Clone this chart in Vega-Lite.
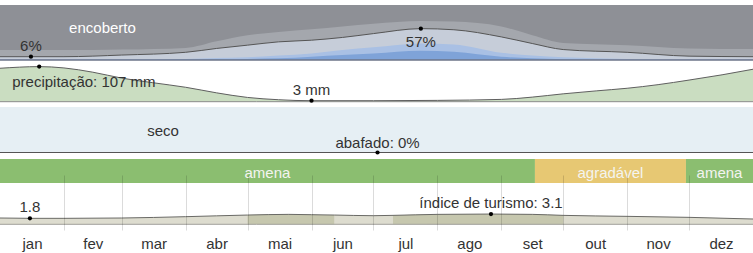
{
  "$schema": "https://vega.github.io/schema/vega-lite/v6.json",
  "width": 753,
  "height": 235,
  "autosize": {"type": "none"},
  "padding": {"left": 0, "right": 0, "top": 0, "bottom": 18},
  "background": "white",
  "config": {
    "view": {"stroke": null},
    "text": {"font": "Liberation Sans", "fontSize": 15, "color": "#333"}
  },
  "datasets": {
    "nuvens": [
      {"dia": 0, "limpo": 0.5, "quase": 1, "parcial": 6, "maioria": 18},
      {"dia": 15, "limpo": 0.5, "quase": 1, "parcial": 6, "maioria": 18},
      {"dia": 31, "limpo": 0.5, "quase": 1, "parcial": 6, "maioria": 18},
      {"dia": 59, "limpo": 0.5, "quase": 1.2, "parcial": 9, "maioria": 19},
      {"dia": 90, "limpo": 1, "quase": 2, "parcial": 14, "maioria": 22},
      {"dia": 105, "limpo": 1.5, "quase": 3.5, "parcial": 21, "maioria": 34},
      {"dia": 120, "limpo": 2, "quase": 5, "parcial": 27, "maioria": 45},
      {"dia": 135, "limpo": 3, "quase": 8, "parcial": 33, "maioria": 51},
      {"dia": 151, "limpo": 6, "quase": 12, "parcial": 36, "maioria": 56},
      {"dia": 166, "limpo": 9, "quase": 18, "parcial": 41, "maioria": 61},
      {"dia": 181, "limpo": 12, "quase": 23, "parcial": 48, "maioria": 66},
      {"dia": 204, "limpo": 17, "quase": 30, "parcial": 57, "maioria": 71},
      {"dia": 220, "limpo": 15, "quase": 28, "parcial": 55, "maioria": 70},
      {"dia": 243, "limpo": 6, "quase": 13, "parcial": 42, "maioria": 61},
      {"dia": 258, "limpo": 3, "quase": 8, "parcial": 30, "maioria": 45},
      {"dia": 273, "limpo": 1.5, "quase": 5, "parcial": 19, "maioria": 31},
      {"dia": 304, "limpo": 0.5, "quase": 2, "parcial": 14, "maioria": 27},
      {"dia": 334, "limpo": 0.5, "quase": 1, "parcial": 7, "maioria": 21},
      {"dia": 365, "limpo": 0.5, "quase": 1, "parcial": 6, "maioria": 20}
    ],
    "chuva": [
      {"dia": 0, "mm": 102}, {"dia": 19, "mm": 107}, {"dia": 31, "mm": 103},
      {"dia": 45, "mm": 90}, {"dia": 59, "mm": 72}, {"dia": 74, "mm": 58},
      {"dia": 90, "mm": 44}, {"dia": 105, "mm": 27}, {"dia": 120, "mm": 13},
      {"dia": 135, "mm": 6}, {"dia": 151, "mm": 3}, {"dia": 181, "mm": 3},
      {"dia": 212, "mm": 4}, {"dia": 243, "mm": 7}, {"dia": 258, "mm": 14},
      {"dia": 273, "mm": 24}, {"dia": 289, "mm": 33}, {"dia": 304, "mm": 41},
      {"dia": 319, "mm": 52}, {"dia": 334, "mm": 66}, {"dia": 350, "mm": 82},
      {"dia": 365, "mm": 99}
    ],
    "umidade": [
      {"dia": 0, "abafado": 0}, {"dia": 183, "abafado": 0}, {"dia": 365, "abafado": 0}
    ],
    "temperatura": [
      {"inicio": 0, "fim": 259.3, "faixa": "amena"},
      {"inicio": 259.3, "fim": 332.5, "faixa": "agradável"},
      {"inicio": 332.5, "fim": 365, "faixa": "amena"}
    ],
    "turismo": [
      {"dia": 0, "indice": 1.9}, {"dia": 15, "indice": 1.8}, {"dia": 31, "indice": 1.8},
      {"dia": 59, "indice": 1.9}, {"dia": 90, "indice": 2.3},
      {"dia": 120, "indice": 2.8, "trecho": 1}, {"dia": 140, "indice": 3.0, "trecho": 1},
      {"dia": 151, "indice": 2.9, "trecho": 1}, {"dia": 162, "indice": 2.8, "trecho": 1},
      {"dia": 181, "indice": 2.6},
      {"dia": 190.5, "indice": 2.7, "trecho": 2}, {"dia": 212, "indice": 3.0, "trecho": 2},
      {"dia": 238, "indice": 3.1, "trecho": 2}, {"dia": 258, "indice": 3.0, "trecho": 2},
      {"dia": 273, "indice": 2.7, "trecho": 2},
      {"dia": 304, "indice": 2.4}, {"dia": 334, "indice": 2.1}, {"dia": 365, "indice": 1.6}
    ]
  },
  "resolve": {"scale": {"y": "independent"}, "axis": {"x": "independent", "y": "independent"}},
  "layer": [
    {
      "data": {"values": [{"ceu": "encoberto"}]},
      "mark": {"type": "rect", "color": "#8e9096"},
      "encoding": {
        "x": {"datum": 0, "type": "quantitative", "scale": {"domain": [0, 365], "nice": false, "zero": false},
          "axis": {"orient": "bottom", "values": [31, 59, 90, 120, 151, 181, 212, 243, 273, 304, 334],
            "grid": true, "gridColor": "#000", "gridOpacity": 0.14, "gridWidth": 1,
            "labels": false, "ticks": false, "domain": false, "title": null, "zindex": 1}},
        "x2": {"datum": 365},
        "y": {"datum": 0, "type": "quantitative", "scale": {"domain": [0, 100], "range": [60, 5], "nice": false}, "axis": null},
        "y2": {"datum": 100}
      }
    },
    {
      "data": {"name": "nuvens"},
      "mark": {"type": "area", "interpolate": "monotone", "color": "#a4a7ad"},
      "encoding": {
        "x": {"field": "dia", "type": "quantitative", "axis": null},
        "y": {"field": "maioria", "type": "quantitative", "scale": {"domain": [0, 100], "range": [60, 5], "nice": false}, "axis": null},
        "y2": {"datum": 0}
      }
    },
    {
      "data": {"name": "nuvens"},
      "mark": {"type": "area", "interpolate": "monotone", "color": "#c6cdd9"},
      "encoding": {
        "x": {"field": "dia", "type": "quantitative", "axis": null},
        "y": {"field": "parcial", "type": "quantitative", "scale": {"domain": [0, 100], "range": [60, 5], "nice": false}, "axis": null},
        "y2": {"datum": 0}
      }
    },
    {
      "data": {"name": "nuvens"},
      "mark": {"type": "area", "interpolate": "monotone", "color": "#a9c0e4"},
      "encoding": {
        "x": {"field": "dia", "type": "quantitative", "axis": null},
        "y": {"field": "quase", "type": "quantitative", "scale": {"domain": [0, 100], "range": [60, 5], "nice": false}, "axis": null},
        "y2": {"datum": 0}
      }
    },
    {
      "data": {"name": "nuvens"},
      "mark": {"type": "area", "interpolate": "monotone", "color": "#7fa3d8"},
      "encoding": {
        "x": {"field": "dia", "type": "quantitative", "axis": null},
        "y": {"field": "limpo", "type": "quantitative", "scale": {"domain": [0, 100], "range": [60, 5], "nice": false}, "axis": null},
        "y2": {"datum": 0}
      }
    },
    {
      "data": {"values": [{"ceu": "base"}]},
      "mark": {"type": "rule", "color": "#6c7588", "strokeWidth": 1.5},
      "encoding": {
        "x": {"datum": 0, "type": "quantitative", "axis": null},
        "x2": {"datum": 365},
        "y": {"datum": 0, "type": "quantitative", "scale": {"domain": [0, 100], "range": [60, 5], "nice": false}, "axis": null}
      }
    },
    {
      "data": {"name": "nuvens"},
      "mark": {"type": "line", "interpolate": "monotone", "color": "#555", "strokeWidth": 1},
      "encoding": {
        "x": {"field": "dia", "type": "quantitative", "axis": null},
        "y": {"field": "parcial", "type": "quantitative", "scale": {"domain": [0, 100], "range": [60, 5], "nice": false}, "axis": null}
      }
    },
    {
      "data": {"values": [{"rotulo": "encoberto"}]},
      "mark": {"type": "text", "align": "left", "baseline": "alphabetic", "color": "#ffffff"},
      "encoding": {
        "x": {"datum": 33.5, "type": "quantitative", "axis": null},
        "y": {"datum": 49, "type": "quantitative", "scale": {"domain": [0, 100], "range": [60, 5], "nice": false}, "axis": null},
        "text": {"field": "rotulo"}
      }
    },
    {
      "data": {"values": [{"dia": 15, "valor": 6, "rotulo": "6%"}, {"dia": 204, "valor": 57, "rotulo": "57%"}]},
      "mark": {"type": "point", "filled": true, "size": 18, "color": "#000", "opacity": 1},
      "encoding": {
        "x": {"field": "dia", "type": "quantitative", "axis": null},
        "y": {"field": "valor", "type": "quantitative", "scale": {"domain": [0, 100], "range": [60, 5], "nice": false}, "axis": null}
      }
    },
    {
      "data": {"values": [{"dia": 15, "valor": 6, "rotulo": "6%"}]},
      "mark": {"type": "text", "baseline": "alphabetic", "dy": -6},
      "encoding": {
        "x": {"field": "dia", "type": "quantitative", "axis": null},
        "y": {"field": "valor", "type": "quantitative", "scale": {"domain": [0, 100], "range": [60, 5], "nice": false}, "axis": null},
        "text": {"field": "rotulo"}
      }
    },
    {
      "data": {"values": [{"dia": 204, "valor": 57, "rotulo": "57%"}]},
      "mark": {"type": "text", "baseline": "alphabetic", "dy": 18},
      "encoding": {
        "x": {"field": "dia", "type": "quantitative", "axis": null},
        "y": {"field": "valor", "type": "quantitative", "scale": {"domain": [0, 100], "range": [60, 5], "nice": false}, "axis": null},
        "text": {"field": "rotulo"}
      }
    },
    {
      "data": {"name": "chuva"},
      "mark": {"type": "area", "interpolate": "monotone", "color": "#b4cfa7", "line": {"color": "#5f5f5f", "strokeWidth": 1}},
      "encoding": {
        "x": {"field": "dia", "type": "quantitative", "axis": null},
        "y": {"field": "mm", "type": "quantitative", "scale": {"domain": [0, 115], "range": [101.7, 64], "nice": false}, "axis": null},
        "y2": {"datum": 0}
      }
    },
    {
      "data": {"values": [{"chuva": "base"}]},
      "mark": {"type": "rule", "color": "#8a8a8a", "strokeWidth": 1},
      "encoding": {
        "x": {"datum": 0, "type": "quantitative", "axis": null},
        "x2": {"datum": 365},
        "y": {"datum": 0, "type": "quantitative", "scale": {"domain": [0, 115], "range": [101.7, 64], "nice": false}, "axis": null}
      }
    },
    {
      "data": {"values": [{"dia": 19, "mm": 107}, {"dia": 151, "mm": 3}]},
      "mark": {"type": "point", "filled": true, "size": 18, "color": "#000", "opacity": 1},
      "encoding": {
        "x": {"field": "dia", "type": "quantitative", "axis": null},
        "y": {"field": "mm", "type": "quantitative", "scale": {"domain": [0, 115], "range": [101.7, 64], "nice": false}, "axis": null}
      }
    },
    {
      "data": {"values": [{"dia": 19, "mm": 107, "rotulo": "precipitação: 107 mm"}]},
      "mark": {"type": "text", "align": "left", "baseline": "alphabetic", "dx": -27, "dy": 20},
      "encoding": {
        "x": {"field": "dia", "type": "quantitative", "axis": null},
        "y": {"field": "mm", "type": "quantitative", "scale": {"domain": [0, 115], "range": [101.7, 64], "nice": false}, "axis": null},
        "text": {"field": "rotulo"}
      }
    },
    {
      "data": {"values": [{"dia": 151, "mm": 3, "rotulo": "3 mm"}]},
      "mark": {"type": "text", "baseline": "alphabetic", "dy": -6},
      "encoding": {
        "x": {"field": "dia", "type": "quantitative", "axis": null},
        "y": {"field": "mm", "type": "quantitative", "scale": {"domain": [0, 115], "range": [101.7, 64], "nice": false}, "axis": null},
        "text": {"field": "rotulo"}
      }
    },
    {
      "data": {"values": [{"umidade": "seco"}]},
      "mark": {"type": "rect", "color": "#e6eff4"},
      "encoding": {
        "x": {"datum": 0, "type": "quantitative", "axis": null},
        "x2": {"datum": 365},
        "y": {"datum": 0, "type": "quantitative", "scale": {"domain": [0, 100], "range": [152.5, 107], "nice": false}, "axis": null},
        "y2": {"datum": 100}
      }
    },
    {
      "data": {"name": "umidade"},
      "mark": {"type": "line", "color": "#555", "strokeWidth": 1.2},
      "encoding": {
        "x": {"field": "dia", "type": "quantitative", "axis": null},
        "y": {"field": "abafado", "type": "quantitative", "scale": {"domain": [0, 100], "range": [152.5, 107], "nice": false}, "axis": null}
      }
    },
    {
      "data": {"values": [{"rotulo": "seco"}]},
      "mark": {"type": "text", "baseline": "alphabetic"},
      "encoding": {
        "x": {"datum": 79, "type": "quantitative", "axis": null},
        "y": {"datum": 36, "type": "quantitative", "scale": {"domain": [0, 100], "range": [152.5, 107], "nice": false}, "axis": null},
        "text": {"field": "rotulo"}
      }
    },
    {
      "data": {"values": [{"dia": 183, "abafado": 0}]},
      "mark": {"type": "point", "filled": true, "size": 18, "color": "#000", "opacity": 1},
      "encoding": {
        "x": {"field": "dia", "type": "quantitative", "axis": null},
        "y": {"field": "abafado", "type": "quantitative", "scale": {"domain": [0, 100], "range": [152.5, 107], "nice": false}, "axis": null}
      }
    },
    {
      "data": {"values": [{"dia": 183, "abafado": 0, "rotulo": "abafado: 0%"}]},
      "mark": {"type": "text", "baseline": "alphabetic", "dy": -5},
      "encoding": {
        "x": {"field": "dia", "type": "quantitative", "axis": null},
        "y": {"field": "abafado", "type": "quantitative", "scale": {"domain": [0, 100], "range": [152.5, 107], "nice": false}, "axis": null},
        "text": {"field": "rotulo"}
      }
    },
    {
      "data": {"name": "temperatura"},
      "mark": {"type": "rect"},
      "encoding": {
        "x": {"field": "inicio", "type": "quantitative", "axis": null},
        "x2": {"field": "fim"},
        "y": {"datum": 0, "type": "quantitative", "scale": {"domain": [0, 1], "range": [183, 159], "nice": false}, "axis": null},
        "y2": {"datum": 1},
        "color": {"field": "faixa", "type": "nominal", "scale": {"domain": ["amena", "agradável"], "range": ["#8bbe70", "#e7c873"]}, "legend": null}
      }
    },
    {
      "data": {"name": "temperatura"},
      "transform": [{"calculate": "(datum.inicio + datum.fim) / 2", "as": "meio"}],
      "mark": {"type": "text", "baseline": "alphabetic", "dy": 7, "color": "#f4f4f0"},
      "encoding": {
        "x": {"field": "meio", "type": "quantitative", "axis": null},
        "y": {"datum": 0.5, "type": "quantitative", "scale": {"domain": [0, 1], "range": [183, 159], "nice": false}, "axis": null},
        "text": {"field": "faixa"}
      }
    },
    {
      "data": {"name": "turismo"},
      "mark": {"type": "area", "interpolate": "monotone", "color": "#dddccf"},
      "encoding": {
        "x": {"field": "dia", "type": "quantitative", "axis": null},
        "y": {"field": "indice", "type": "quantitative", "scale": {"domain": [0, 10], "range": [224.3, 191.2], "nice": false}, "axis": null},
        "y2": {"datum": 0}
      }
    },
    {
      "data": {"name": "turismo"},
      "transform": [{"filter": "isValid(datum.trecho)"}],
      "mark": {"type": "area", "interpolate": "monotone", "color": "#c6c7ae"},
      "encoding": {
        "x": {"field": "dia", "type": "quantitative", "axis": null},
        "y": {"field": "indice", "type": "quantitative", "scale": {"domain": [0, 10], "range": [224.3, 191.2], "nice": false}, "axis": null},
        "y2": {"datum": 0},
        "detail": {"field": "trecho", "type": "nominal"}
      }
    },
    {
      "data": {"values": [{"turismo": "base"}]},
      "mark": {"type": "rule", "color": "#a0a09a", "strokeWidth": 1},
      "encoding": {
        "x": {"datum": 0, "type": "quantitative", "axis": null},
        "x2": {"datum": 365},
        "y": {"datum": 0, "type": "quantitative", "scale": {"domain": [0, 10], "range": [224.3, 191.2], "nice": false}, "axis": null}
      }
    },
    {
      "data": {"name": "turismo"},
      "mark": {"type": "line", "interpolate": "monotone", "color": "#6a6a66", "strokeWidth": 1},
      "encoding": {
        "x": {"field": "dia", "type": "quantitative",
          "axis": {"orient": "bottom", "values": [15.5, 45, 74.5, 105, 135.5, 166, 196.5, 227.5, 258, 288.5, 319, 349.5],
            "labelExpr": "['jan','fev','mar','abr','mai','jun','jul','ago','set','out','nov','dez'][floor(datum.value / 30.5)]",
            "grid": false, "ticks": false, "tickSize": 0, "domain": false, "title": null,
            "labelPadding": 1, "labelFont": "Liberation Sans", "labelFontSize": 15, "labelColor": "#333",
            "labelFlush": false, "labelBound": false, "labelOverlap": false}},
        "y": {"field": "indice", "type": "quantitative", "scale": {"domain": [0, 10], "range": [224.3, 191.2], "nice": false}, "axis": null}
      }
    },
    {
      "data": {"values": [{"dia": 14.5, "indice": 1.8}, {"dia": 238, "indice": 3.1}]},
      "mark": {"type": "point", "filled": true, "size": 18, "color": "#000", "opacity": 1},
      "encoding": {
        "x": {"field": "dia", "type": "quantitative", "axis": null},
        "y": {"field": "indice", "type": "quantitative", "scale": {"domain": [0, 10], "range": [224.3, 191.2], "nice": false}, "axis": null}
      }
    },
    {
      "data": {"values": [{"dia": 14.5, "indice": 1.8, "rotulo": "1.8"}, {"dia": 238, "indice": 3.1, "rotulo": "índice de turismo: 3.1"}]},
      "mark": {"type": "text", "baseline": "alphabetic", "dy": -6},
      "encoding": {
        "x": {"field": "dia", "type": "quantitative", "axis": null},
        "y": {"field": "indice", "type": "quantitative", "scale": {"domain": [0, 10], "range": [224.3, 191.2], "nice": false}, "axis": null},
        "text": {"field": "rotulo"}
      }
    }
  ]
}
